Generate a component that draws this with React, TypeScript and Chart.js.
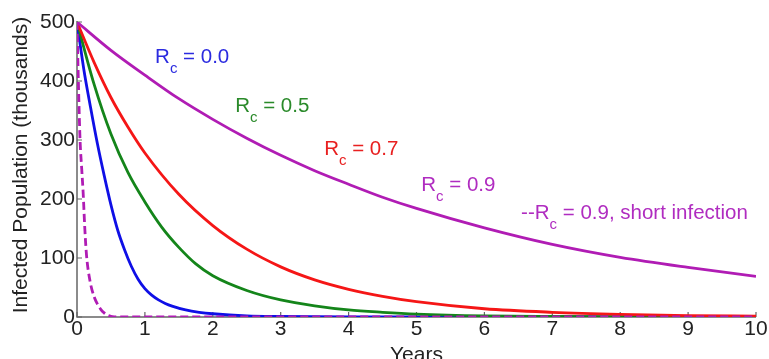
import React, { useEffect, useRef } from "react";
import { Chart, registerables } from "chart.js";

Chart.register(...registerables);

// ---- data (years, thousands) ----
const blueT = [0, 0.1, 0.2, 0.3, 0.4, 0.5, 0.6, 0.7, 0.8, 0.9, 1, 1.1, 1.2, 1.3, 1.4, 1.6, 1.8, 2, 2.5, 3, 3.5, 4, 5, 6, 7, 8, 9, 10];
const blueV = [500, 420, 355, 294, 240, 190, 147, 114, 86, 64, 48, 37, 29, 23, 18.5, 12, 8, 5.5, 2, 1, 0.5, 0.2, 0, 0, 0, 0, 0, 0];

const greenT = [0, 0.25, 0.5, 0.75, 1, 1.25, 1.5, 1.75, 2, 2.5, 3, 3.5, 4, 4.5, 5, 6, 7, 8, 9, 10];
const greenV = [500, 395, 310, 245, 195, 152, 118, 90, 70, 45, 29, 19, 12, 8, 5, 2, 1, 0.5, 0.2, 0];

const redT = [0, 0.25, 0.5, 0.75, 1, 1.5, 2, 2.5, 3, 3.5, 4, 4.5, 5, 6, 7, 8, 9, 10];
const redV = [500, 432, 372, 322, 278, 208, 155, 115, 85, 63, 47, 35, 26, 14, 8, 4.5, 2.5, 1.5];

const magT = [0, 0.5, 1, 1.5, 2, 2.5, 3, 3.5, 4, 4.5, 5, 6, 7, 8, 9, 10];
const magV = [500, 452, 410, 370, 335, 303, 274, 248, 225, 203, 184, 151, 123, 101, 84, 69];

const shortT = [0, 0.02, 0.045, 0.07, 0.09, 0.115, 0.14, 0.19, 0.25, 0.3, 0.35, 0.4, 0.45, 0.5, 0.55, 0.6, 1, 2, 3, 4, 5, 6, 7, 8, 9, 10];
const shortV = [500, 400, 300, 250, 212, 150, 105, 62, 35, 22, 13, 7, 3, 1, 0.2, 0, 0, 0, 0, 0, 0, 0, 0, 0, 0, 0];

const xTicks = [0, 1, 2, 3, 4, 5, 6, 7, 8, 9, 10];
const yTicks = [0, 100, 200, 300, 400, 500];

// annotation labels
const labelPrefix = ["", "", "", "", "--"];
const labelText = [" = 0.0", " = 0.5", " = 0.7", " = 0.9", " = 0.9, short infection"];
const labelX = [1.15, 2.33, 3.64, 5.07, 6.54];
const labelY = [431, 348, 275, 214, 166];

const BLUE = "#0f0fe6";
const GREEN = "#14851a";
const RED = "#f51616";
const MAG = "#b01cb4";
const labelColor = ["#2b2be0", "#2a8a2a", "#e82020", "#b02cc0", "#b02cc0"];

const FONT = "'Liberation Sans', Arial, sans-serif";

const pts = (t: number[], v: number[]) => t.map((x, i) => ({ x, y: v[i] }));

const overlay = {
  id: "overlay",
  beforeDatasetsDraw(chart: any) {
    const { ctx, chartArea, scales } = chart;
    const xs = scales.x;
    const ys = scales.y;
    ctx.save();
    ctx.strokeStyle = "#666";
    ctx.lineWidth = 1.5;
    ctx.beginPath();
    ctx.moveTo(chartArea.left, chartArea.top - 1);
    ctx.lineTo(chartArea.left, chartArea.bottom);
    ctx.lineTo(chartArea.right, chartArea.bottom);
    ctx.stroke();
    ctx.lineWidth = 1.2;
    ctx.beginPath();
    for (const t of xTicks) {
      const px = xs.getPixelForValue(t);
      ctx.moveTo(px, chartArea.bottom);
      ctx.lineTo(px, chartArea.bottom - 5);
    }
    for (const v of yTicks) {
      const py = ys.getPixelForValue(v);
      ctx.moveTo(chartArea.left, py);
      ctx.lineTo(chartArea.left + 5, py);
    }
    ctx.stroke();
    ctx.restore();
  },
  afterDraw(chart: any) {
    const { ctx, chartArea, scales } = chart;
    const xs = scales.x;
    const ys = scales.y;
    ctx.save();
    ctx.fillStyle = "#222";
    ctx.font = `21px ${FONT}`;
    ctx.textAlign = "center";
    ctx.textBaseline = "alphabetic";
    ctx.fillText("Years", (chartArea.left + chartArea.right) / 2, 361);
    ctx.save();
    ctx.translate(27, 165);
    ctx.rotate(-Math.PI / 2);
    ctx.fillText("Infected Population (thousands)", 0, 0);
    ctx.restore();
    ctx.textAlign = "left";
    for (let i = 0; i < labelText.length; i++) {
      let x = xs.getPixelForValue(labelX[i]);
      const y = ys.getPixelForValue(labelY[i]);
      ctx.fillStyle = labelColor[i];
      ctx.font = `20.5px ${FONT}`;
      if (labelPrefix[i]) {
        ctx.fillText(labelPrefix[i], x, y);
        x += ctx.measureText(labelPrefix[i]).width;
      }
      ctx.fillText("R", x, y);
      x += ctx.measureText("R").width;
      ctx.font = `15px ${FONT}`;
      ctx.fillText("c", x, y + 10);
      x += ctx.measureText("c").width;
      ctx.font = `20.5px ${FONT}`;
      ctx.fillText(labelText[i], x, y);
    }
    ctx.restore();
  },
};

export default function App() {
  const ref = useRef<HTMLCanvasElement | null>(null);
  useEffect(() => {
    if (!ref.current) return;
    const line = (data: any, color: string, order: number, dash?: number[]) => ({
      data,
      borderColor: color,
      backgroundColor: color,
      borderWidth: 2.8,
      pointRadius: 0,
      cubicInterpolationMode: "monotone" as const,
      borderDash: dash || [],
      order,
      fill: false,
    });
    const chart = new Chart(ref.current, {
      type: "line",
      data: {
        datasets: [
          line(pts(blueT, blueV), BLUE, 5),
          line(pts(greenT, greenV), GREEN, 4),
          line(pts(redT, redV), RED, 3),
          line(pts(magT, magV), MAG, 2),
          line(pts(shortT, shortV), MAG, 1, [8, 4]),
        ],
      },
      options: {
        animation: false,
        responsive: false,
        devicePixelRatio: 1,
        parsing: false as any,
        layout: { padding: { top: 22, right: 13, left: 0, bottom: 0 } },
        plugins: { legend: { display: false }, tooltip: { enabled: false } },
        scales: {
          x: {
            type: "linear",
            min: 0,
            max: 10,
            afterFit: (s: any) => {
              s.height = 42;
            },
            afterBuildTicks: (s: any) => {
              s.ticks = xTicks.map((v) => ({ value: v }));
            },
            grid: { display: false, drawTicks: false },
            border: { display: false },
            ticks: { color: "#222", font: { size: 21, family: FONT }, padding: 0, maxRotation: 0, autoSkip: false },
          },
          y: {
            type: "linear",
            min: 0,
            max: 500,
            afterFit: (s: any) => {
              s.width = 77;
            },
            afterBuildTicks: (s: any) => {
              s.ticks = yTicks.map((v) => ({ value: v }));
            },
            grid: { display: false, drawTicks: false },
            border: { display: false },
            ticks: { color: "#222", font: { size: 21, family: FONT }, padding: 2, autoSkip: false },
          },
        },
      },
      plugins: [overlay],
    });
    return () => chart.destroy();
  }, []);
  return (
    <div style={{ position: "fixed", left: 0, top: 0, width: 769, height: 359, background: "#fff" }}>
      <canvas ref={ref} width={769} height={359} />
    </div>
  );
}
